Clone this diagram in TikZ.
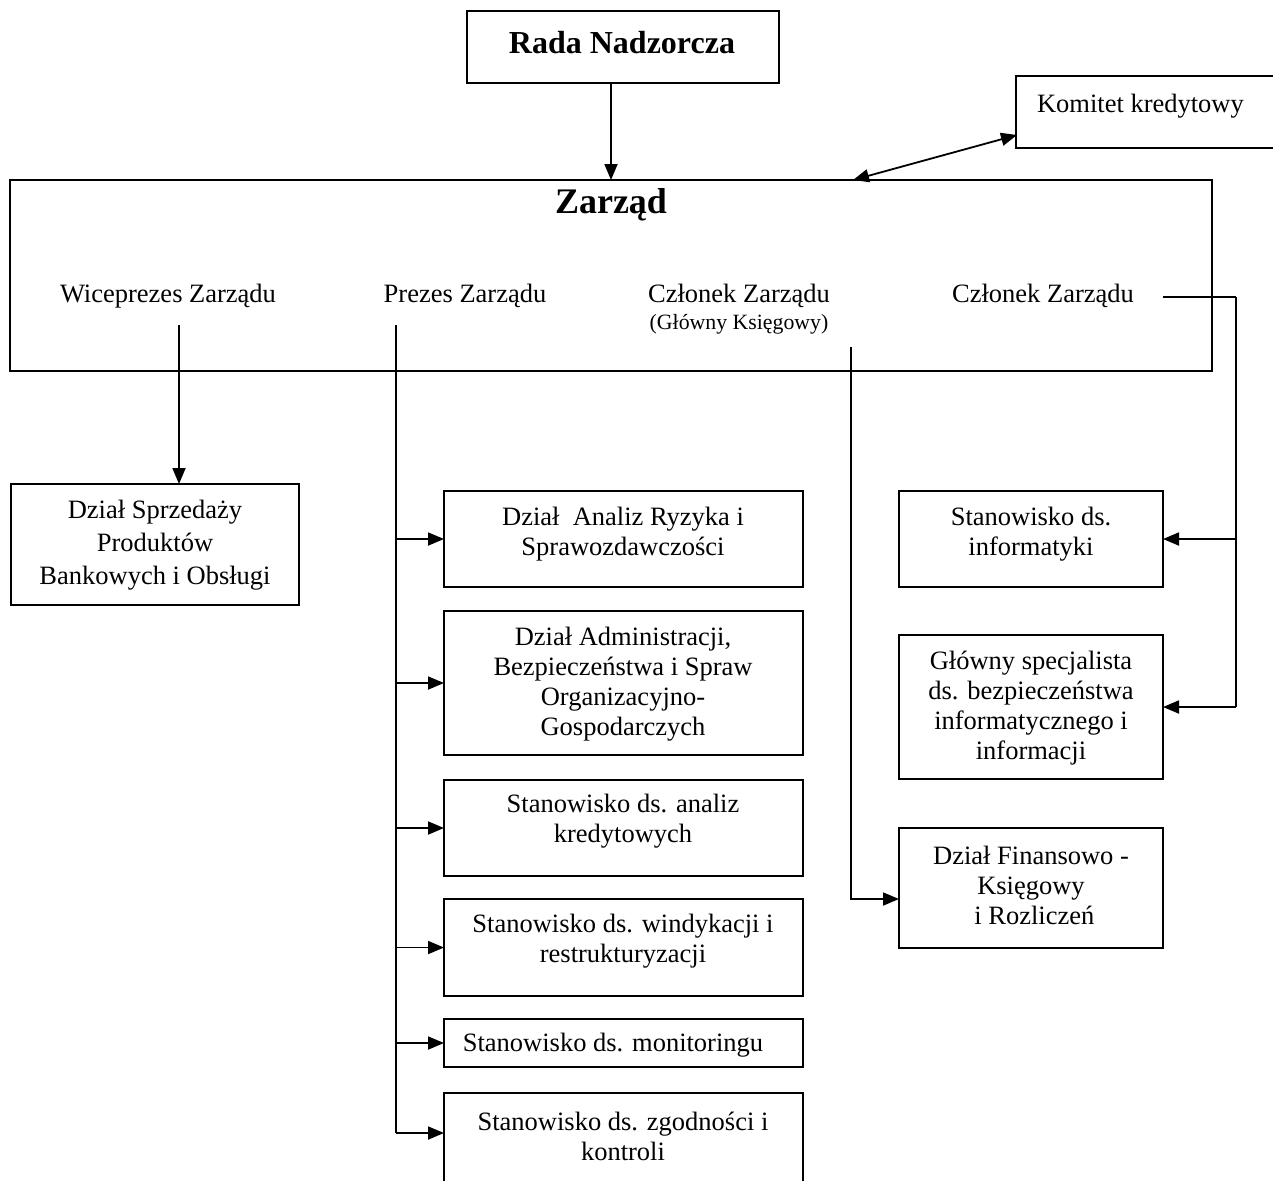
\documentclass[tikz,border=0pt]{standalone}
\usepackage{fontspec}
\setmainfont{Liberation Serif}
\usetikzlibrary{arrows.meta}
\begin{document}
\begin{tikzpicture}[x=0.5pt,y=-0.5pt,
  every node/.style={inner sep=0pt,outer sep=0pt},
  box/.style={draw,line width=0.9pt,rectangle},
  txt/.style={align=center,font=\fontsize{13.25}{15}\selectfont},
  conn/.style={line width=0.9pt},
  arr/.style={line width=0.9pt,-{Triangle[length=8pt,width=6.5pt]}},
  darr/.style={line width=0.9pt,{Triangle[length=8pt,width=6.5pt]}-{Triangle[length=8pt,width=6.5pt]}}
]
\useasboundingbox (0,0) rectangle (1273,1180);
\clip (0,0) rectangle (1273,1180);

% top boxes
\node[box,minimum width=156pt,minimum height=36pt] (rada) at (623,47) {};
\node[font=\bfseries\fontsize{16}{18}\selectfont] (radat) at (622,43) {Rada Nadzorcza};

\node[box,minimum width=140pt,minimum height=36pt] (komitet) at (1156,112) {};
\node[txt,anchor=west] (komitett) at (1037,106) {Komitet kredytowy};

\node[box,minimum width=601pt,minimum height=95.5pt] (zarzad) at (611,275.5) {};
\node[font=\bfseries\fontsize{18}{20}\selectfont] (zarzadt) at (611,205) {Zarząd};

\node[txt] (wice) at (168,296) {Wiceprezes Zarządu};
\node[txt] (prezes) at (465,296) {Prezes Zarządu};
\node[txt] (czlgk) at (739,296) {Członek Zarządu};
\node[font=\fontsize{10.9}{12}\selectfont] (gk) at (739,324) {(Główny Księgowy)};
\node[txt] (czl) at (1043,296) {Członek Zarządu};

% left box
\node[box,minimum width=144pt,minimum height=60.5pt] (sprz) at (155,544.5) {};
\node[txt,font=\fontsize{13.25}{16.5}\selectfont] (sprzt) at (155,545) {Dział Sprzedaży\\Produktów\\Bankowych i Obsługi};

% middle column
\node[box,minimum width=179.5pt,minimum height=48pt] (b1) at (623.5,539) {};
\node[txt] (b1t) at (623,534) {Dział\ \ Analiz Ryzyka i\\Sprawozdawczości};
\node[box,minimum width=179.5pt,minimum height=72pt] (b2) at (623.5,683) {};
\node[txt] (b2t) at (623,684) {Dział Administracji,\\Bezpieczeństwa i Spraw\\Organizacyjno-\\Gospodarczych};
\node[box,minimum width=179.5pt,minimum height=48pt] (b3) at (623.5,828) {};
\node[txt] (b3t) at (623,821) {Stanowisko ds. analiz\\kredytowych};
\node[box,minimum width=179.5pt,minimum height=48.5pt] (b4) at (623.5,947.5) {};
\node[txt] (b4t) at (623,941) {Stanowisko ds. windykacji i\\restrukturyzacji};
\node[box,minimum width=179.5pt,minimum height=24pt] (b5) at (623.5,1043) {};
\node[txt] (b5t) at (613,1045) {Stanowisko ds. monitoringu};
\node[box,minimum width=179.5pt,minimum height=48pt] (b6) at (623.5,1141) {};
\node[txt] (b6t) at (623,1136) {Stanowisko ds. zgodności i\\kontroli};

% right column
\node[box,minimum width=132pt,minimum height=48pt] (r1) at (1031,539) {};
\node[txt] (r1t) at (1031,534) {Stanowisko ds.\\informatyki};
\node[box,minimum width=132pt,minimum height=72pt] (r2) at (1031,707) {};
\node[txt] (r2t) at (1031,708) {Główny specjalista\\ds. bezpieczeństwa\\informatycznego i\\informacji};
\node[box,minimum width=132pt,minimum height=60pt] (r3) at (1031,888) {};
\node[txt] (r3t) at (1031,885) {Dział Finansowo -\\Księgowy\\\ i Rozliczeń};

% connectors
\draw[arr] (zarzad.north |- rada.south) -- (zarzad.north);

\coordinate (zk) at (853,180);
\coordinate (kz) at (1017,135);
\draw[darr] (zk) -- (kz);

\coordinate (w0) at (179,325);
\draw[arr] (w0) -- (w0 |- sprz.north);

\coordinate (p0) at (396,325);
\coordinate (p6) at (396,1133);
\draw[conn] (p0) -- (p6);
\draw[arr] (p0 |- b1.west) -- (b1.west);
\draw[arr] (p0 |- b2.west) -- (b2.west);
\draw[arr] (p0 |- b3.west) -- (b3.west);
\draw[arr] (p0 |- b4.west) -- (b4.west);
\draw[arr] (p0 |- b5.west) -- (b5.west);
\draw[arr] (p6) -- (p6 -| b6.west);

\coordinate (g0) at (851,347);
\coordinate (g1) at (851,899);
\draw[arr] (g0) -- (g1) -- (g1 -| r3.west);

\coordinate (c0) at (1163,297);
\coordinate (c1) at (1236,297);
\coordinate (c2) at (1236,707);
\draw[conn,line width=1.3pt] (c0) -- (c1);
\draw[conn] (c1) -- (c2);
\draw[arr] (c1 |- r1.east) -- (r1.east);
\draw[arr] (c2) -- (r2.east);
\end{tikzpicture}
\end{document}
